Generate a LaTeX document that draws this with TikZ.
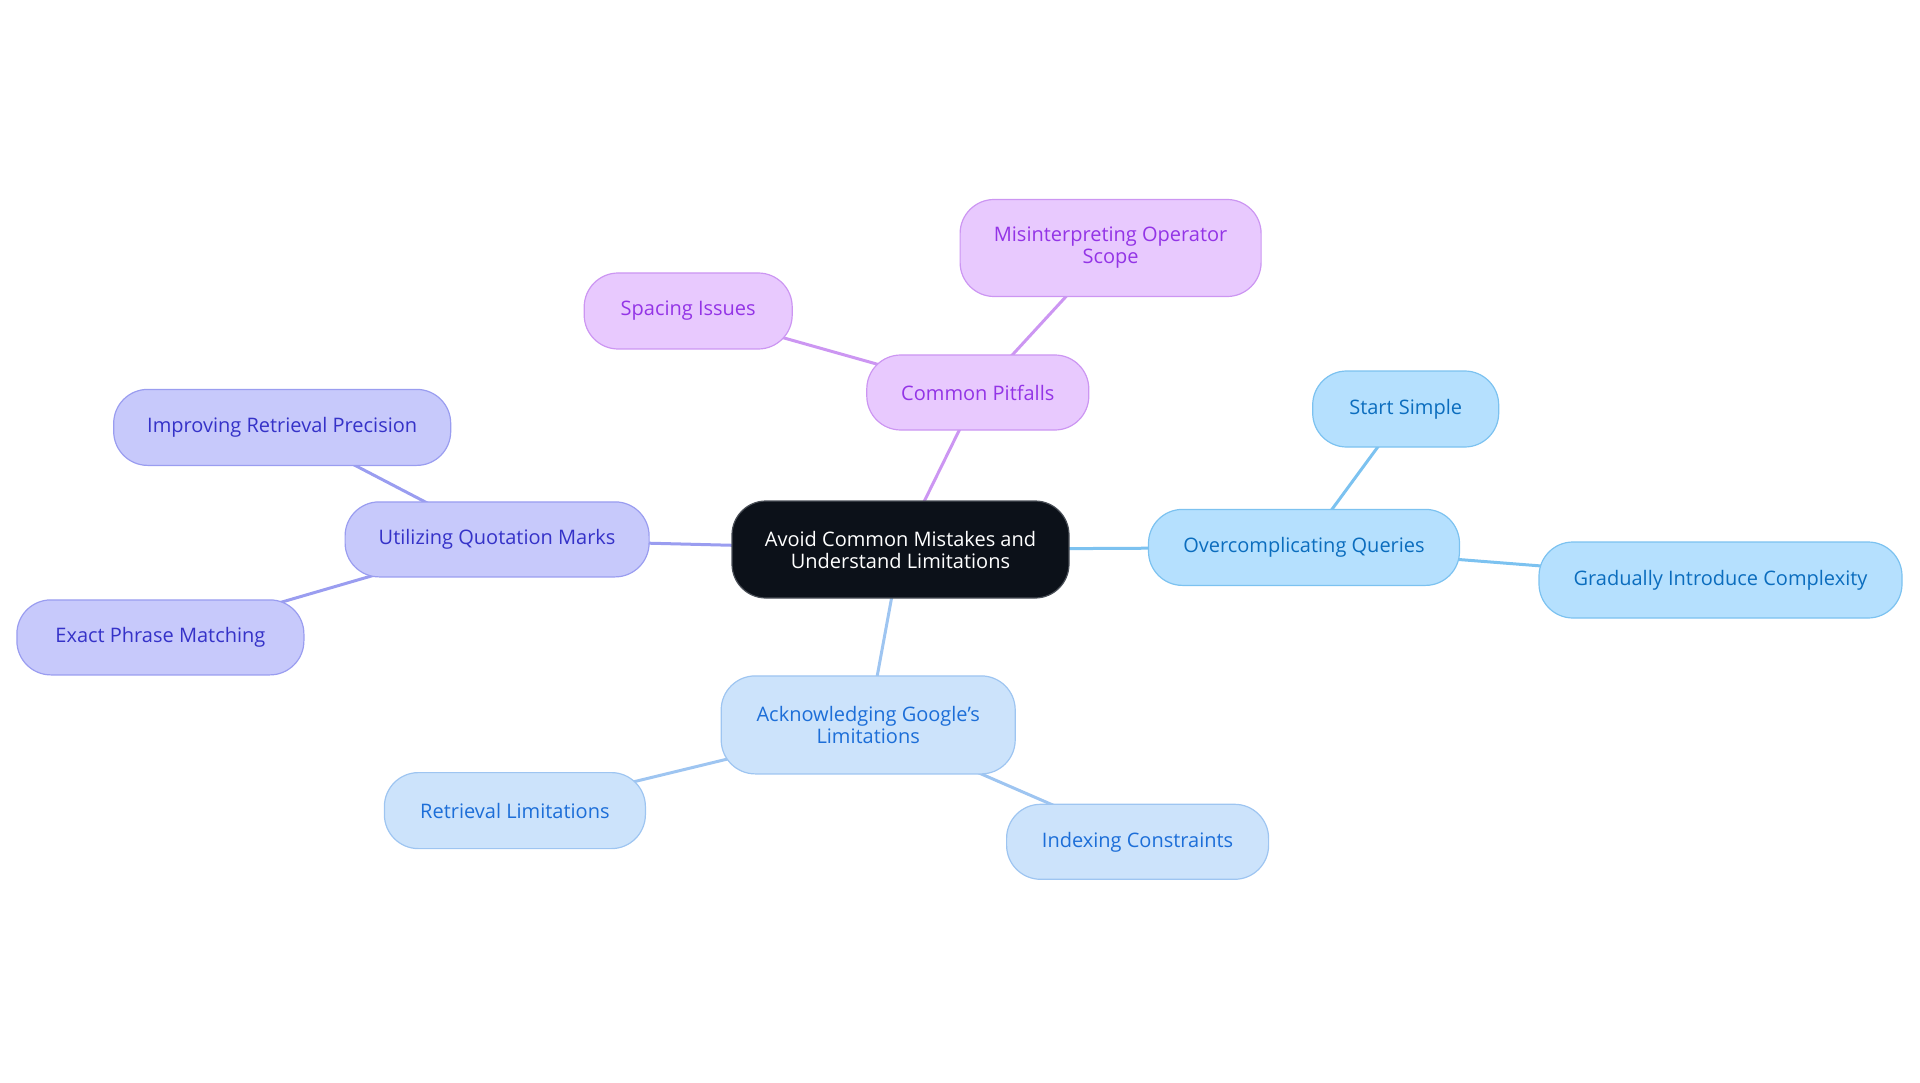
\documentclass[tikz,border=0pt]{standalone}
\usepackage{fontspec}
\setmainfont{Open Sans}
\usetikzlibrary{backgrounds}
\definecolor{cfill}{HTML}{0C1119}
\definecolor{cdraw}{HTML}{4A4F57}
\definecolor{pfill}{HTML}{E8C9FE}
\definecolor{pdraw}{HTML}{CC96F2}
\definecolor{ptext}{HTML}{9334E6}
\definecolor{ifill}{HTML}{C7C9FB}
\definecolor{idraw}{HTML}{9A9DF0}
\definecolor{itext}{HTML}{3532C8}
\definecolor{lfill}{HTML}{CCE3FB}
\definecolor{ldraw}{HTML}{9EC5F1}
\definecolor{ltext}{HTML}{1C6ED8}
\definecolor{sfill}{HTML}{B5E0FE}
\definecolor{sdraw}{HTML}{7CC2F0}
\definecolor{stext}{HTML}{0B6DBE}
\tikzset{
  box/.style={rounded corners=34pt, line width=1.2pt, align=center, inner sep=0pt,
    font=\fontsize{20}{22}\selectfont},
  centerbox/.style={box, fill=cfill, draw=cdraw, text=white},
  pbox/.style={box, fill=pfill, draw=pdraw, text=ptext},
  ibox/.style={box, fill=ifill, draw=idraw, text=itext},
  lbox/.style={box, fill=lfill, draw=ldraw, text=ltext},
  sbox/.style={box, fill=sfill, draw=sdraw, text=stext},
  link/.style={line width=3pt},
}
\begin{document}
\begin{tikzpicture}[x=1pt,y=-1pt]
\useasboundingbox (0,0) rectangle (1920,1083);
% nodes
\node[centerbox, minimum width=337pt, minimum height=97pt] (c) at (900.5,549.5) {Avoid Common Mistakes and\\Understand Limitations};
\node[pbox, minimum width=222pt, minimum height=75pt] (cp) at (977.8,392.5) {Common Pitfalls};
\node[pbox, minimum width=301pt, minimum height=97pt] (mos) at (1110.6,248) {Misinterpreting Operator\\Scope};
\node[pbox, minimum width=208pt, minimum height=76pt] (si) at (688.2,311) {Spacing Issues};
\node[sbox, minimum width=311pt, minimum height=76pt] (oq) at (1304,547.4) {Overcomplicating Queries};
\node[sbox, minimum width=186pt, minimum height=76pt] (ss) at (1405.7,409) {Start Simple};
\node[sbox, minimum width=363pt, minimum height=76pt] (gic) at (1720.5,580) {Gradually Introduce Complexity};
\node[ibox, minimum width=304pt, minimum height=75pt] (uqm) at (497.1,539.4) {Utilizing Quotation Marks};
\node[ibox, minimum width=337pt, minimum height=76pt] (irp) at (282.2,427.4) {Improving Retrieval Precision};
\node[ibox, minimum width=287pt, minimum height=75pt] (epm) at (160.4,637.4) {Exact Phrase Matching};
\node[lbox, minimum width=294pt, minimum height=98pt] (agl) at (868.2,724.9) {Acknowledging Google's\\Limitations};
\node[lbox, minimum width=261pt, minimum height=76pt] (rl) at (514.9,810.6) {Retrieval Limitations};
\node[lbox, minimum width=262pt, minimum height=75pt] (ic) at (1137.6,841.8) {Indexing Constraints};
% links
\begin{scope}[on background layer]
\draw[link, pdraw] (c.center) -- (cp.center);
\draw[link, pdraw] (cp.center) -- (mos.center);
\draw[link, pdraw] (cp.center) -- (si.center);
\draw[link, sdraw] (c.center) -- (oq.center);
\draw[link, sdraw] (oq.center) -- (ss.center);
\draw[link, sdraw] (oq.center) -- (gic.center);
\draw[link, idraw] (c.center) -- (uqm.center);
\draw[link, idraw] (uqm.center) -- (irp.center);
\draw[link, idraw] (uqm.center) -- (epm.center);
\draw[link, ldraw] (c.center) -- (agl.center);
\draw[link, ldraw] (agl.center) -- (rl.center);
\draw[link, ldraw] (agl.center) -- (ic.center);
\end{scope}
\end{tikzpicture}
\end{document}
